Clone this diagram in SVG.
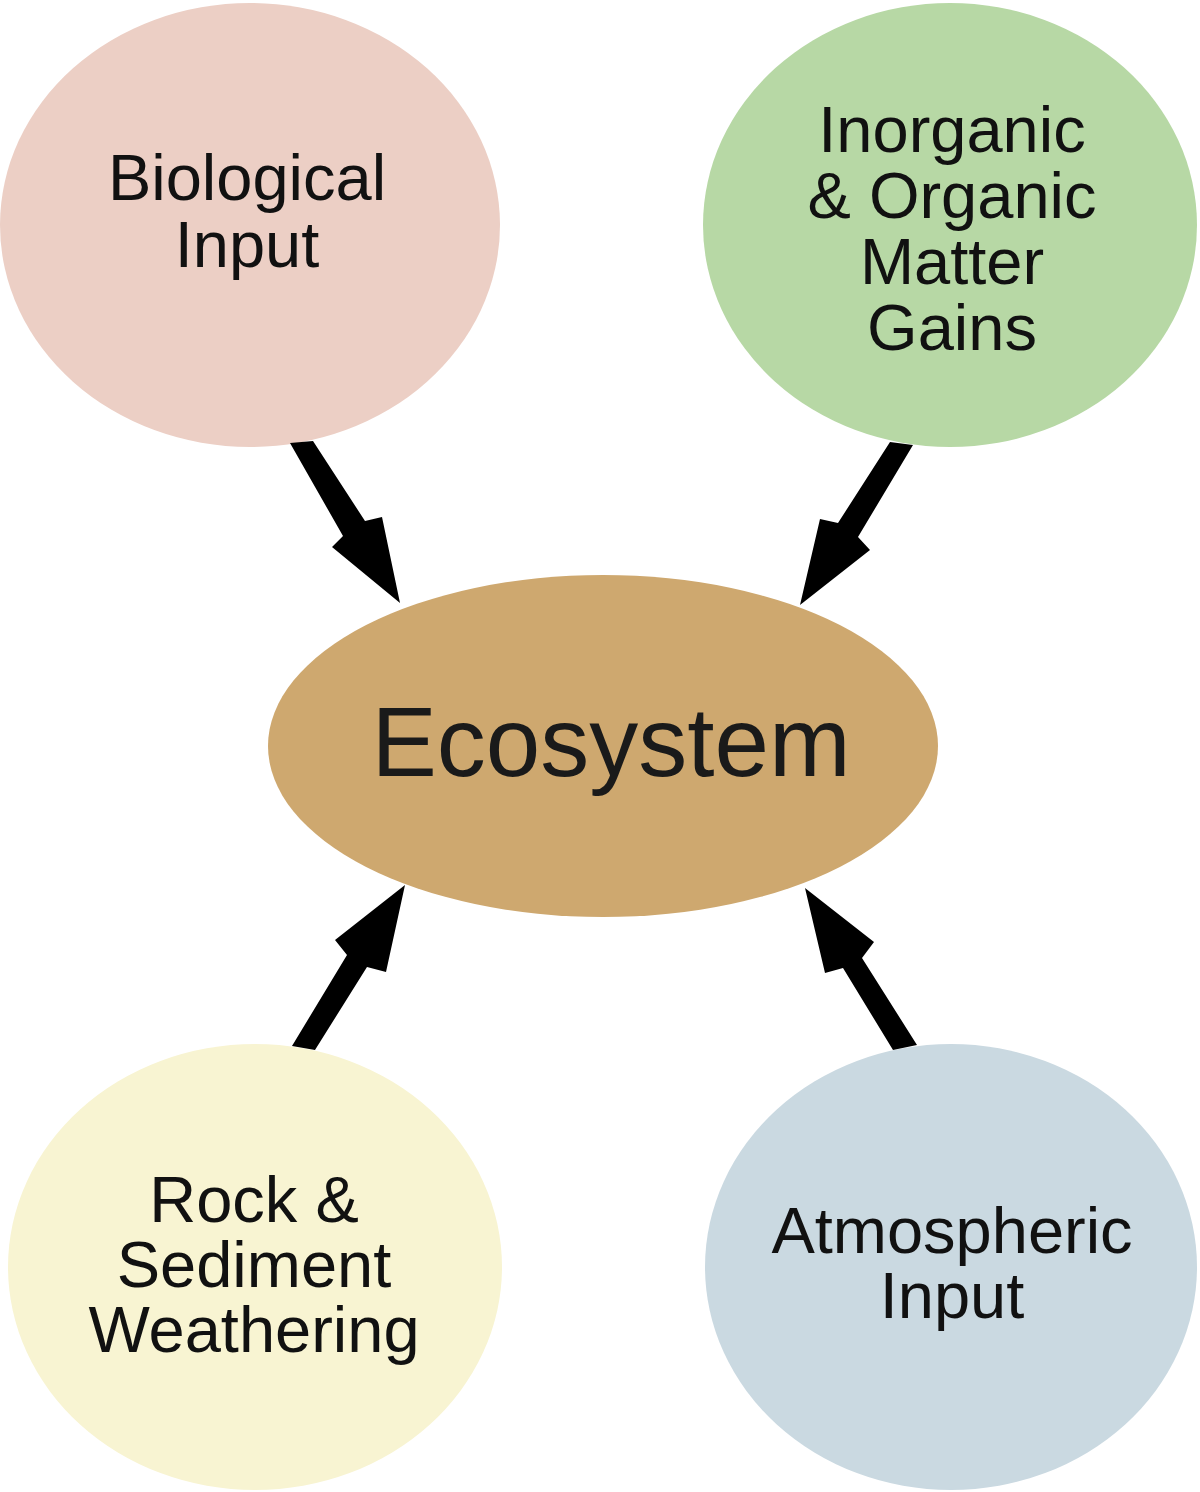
<svg xmlns="http://www.w3.org/2000/svg" width="1200" height="1492" viewBox="0 0 1200 1492">
<style>
.lbl{font-family:"Liberation Sans",Arial,Helvetica,sans-serif;font-size:65px;fill:#111;text-anchor:middle}
.big{font-size:98px;fill:#1a1a1a}
.arr{fill:#000}
</style>
<rect width="1200" height="1492" fill="#fff"/>
<g id="biological">
<ellipse cx="250" cy="225" rx="250" ry="222" fill="#eccfc5"/>
<text class="lbl" x="247" y="200">Biological</text>
<text class="lbl" x="247" y="267">Input</text>
</g>
<g id="inorganic">
<ellipse cx="950" cy="225" rx="247" ry="222" fill="#b7d8a5"/>
<text class="lbl" x="952" y="152">Inorganic</text>
<text class="lbl" x="952" y="218">&amp; Organic</text>
<text class="lbl" x="952" y="284">Matter</text>
<text class="lbl" x="952" y="350">Gains</text>
</g>
<g id="ecosystem">
<ellipse cx="603" cy="746" rx="335" ry="171" fill="#cea86f"/>
<text class="lbl big" x="611" y="776">Ecosystem</text>
</g>
<g id="rock">
<ellipse cx="255" cy="1267" rx="247" ry="223" fill="#f8f4d2"/>
<text class="lbl" x="254" y="1222">Rock &amp;</text>
<text class="lbl" x="254" y="1287">Sediment</text>
<text class="lbl" x="254" y="1352">Weathering</text>
</g>
<g id="atmospheric">
<ellipse cx="951" cy="1267" rx="246" ry="223" fill="#cad9e1"/>
<text class="lbl" x="952" y="1253">Atmospheric</text>
<text class="lbl" x="952" y="1318">Input</text>
</g>
<g id="connectors">
<polygon class="arr" points="290,443 313,441 365,521 382,517 400,603 332,547 343,536"/>
<polygon class="arr" points="890,442 913,445 858,537 870,550 800,605 820,519 838,523"/>
<polygon class="arr" points="292,1046 315,1050 367,967 386,972 405,885 335,940 347,955"/>
<polygon class="arr" points="917,1045 893,1050 843,968 825,973 805,888 874,942 862,958"/>
</g>
</svg>
